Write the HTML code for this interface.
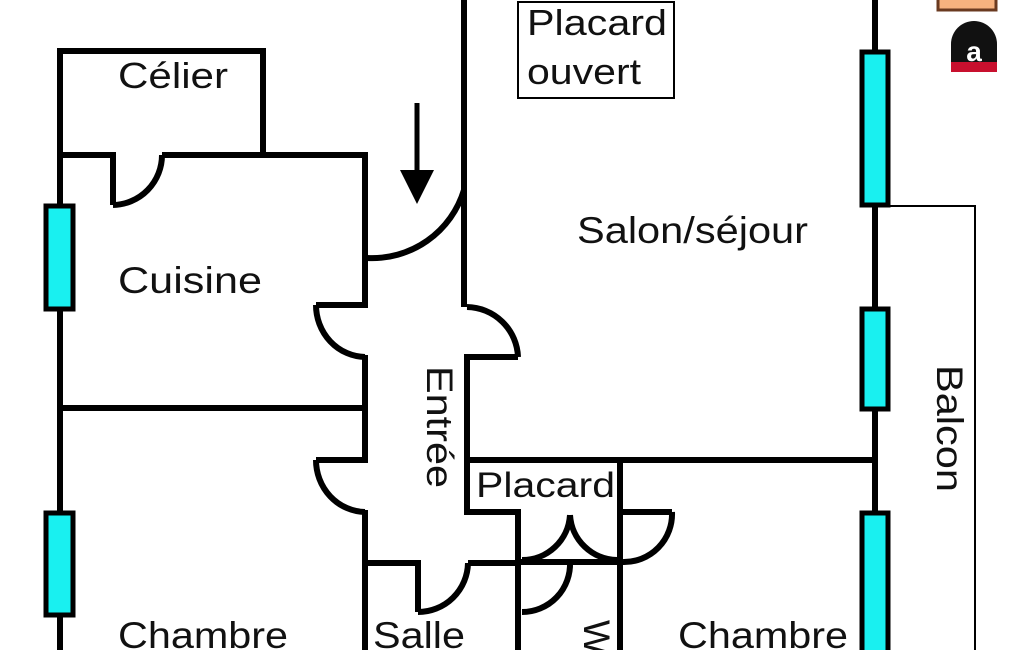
<!DOCTYPE html>
<html><head><meta charset="utf-8"><style>
html,body{margin:0;padding:0;background:#fff;}
svg{display:block}
text{font-family:"Liberation Sans",Arial,sans-serif;fill:#111;}
</style></head><body>
<svg width="1025" height="650" viewBox="0 0 1025 650" xmlns="http://www.w3.org/2000/svg">
<g fill="none" stroke="#000" stroke-width="6" stroke-linejoin="miter">
<polyline points="60,650 60,51 263,51 263,155"/>
<polyline points="60,155 113,155 113,205"/>
<path d="M113,205 A50,50 0 0 0 162,155"/>
<polyline points="162,155 365,155 365,308"/>
<path d="M367,258 A96,96 0 0 0 464,190"/>
<line x1="464" y1="0" x2="464" y2="307"/>
<line x1="365" y1="305" x2="316" y2="305"/>
<path d="M316,305 A50,52 0 0 0 365,357"/>
<line x1="365" y1="355" x2="365" y2="463"/>
<line x1="60" y1="408" x2="365" y2="408"/>
<line x1="365" y1="460" x2="316" y2="460"/>
<path d="M316,460 A50,52 0 0 0 365,512"/>
<line x1="365" y1="510" x2="365" y2="650"/>
<path d="M467,307 A52,52 0 0 1 518,357"/>
<polyline points="518,357 467,357 467,512 518,512 518,650"/>
<line x1="464" y1="460" x2="875" y2="460"/>
<line x1="620" y1="460" x2="620" y2="650"/>
<path d="M522,560 A48,48 0 0 0 570,515"/>
<path d="M570,515 A48,48 0 0 0 617,560"/>
<line x1="518" y1="562" x2="620" y2="562"/>
<path d="M522,612 A48,48 0 0 0 570,562"/>
<line x1="623" y1="512" x2="672" y2="512"/>
<path d="M672,512 A48,48 0 0 1 623,562"/>
<polyline points="365,563 418,563 418,612"/>
<path d="M418,612 A50,50 0 0 0 468,563"/>
<line x1="468" y1="563" x2="518" y2="563"/>
<line x1="875" y1="0" x2="875" y2="650"/>
</g>
<g fill="#19f0f0" stroke="#000" stroke-width="5">
<rect x="46" y="206" width="27" height="103"/>
<rect x="46" y="513" width="27" height="102"/>
<rect x="862" y="52" width="26" height="153"/>
<rect x="862" y="309" width="26" height="100"/>
<rect x="862" y="513" width="26" height="140"/>
</g>
<polyline points="888,206 975,206 975,650" fill="none" stroke="#000" stroke-width="2"/>
<rect x="518" y="2" width="156" height="96" fill="none" stroke="#000" stroke-width="2"/>
<line x1="417" y1="103" x2="417" y2="175" stroke="#000" stroke-width="5"/>
<polygon points="400,170 434,170 417,204" fill="#000"/>
<rect x="938" y="-4" width="58" height="14" fill="#f6b27f" stroke="#6a3a20" stroke-width="3"/>
<path d="M951,72 L951,44 A23,23 0 0 1 997,44 L997,72 Z" fill="#111"/>
<rect x="951" y="62" width="46" height="10" fill="#c8102e"/>
<text x="974" y="61" font-size="28" font-weight="bold" text-anchor="middle" style="fill:#fff">a</text>
<text x="118" y="88" font-size="36" textLength="110" lengthAdjust="spacingAndGlyphs">Célier</text>
<text x="118" y="293" font-size="37" textLength="144" lengthAdjust="spacingAndGlyphs">Cuisine</text>
<text x="577" y="243" font-size="37" textLength="231" lengthAdjust="spacingAndGlyphs">Salon/séjour</text>
<text x="527" y="35" font-size="36" textLength="140" lengthAdjust="spacingAndGlyphs">Placard</text>
<text x="527" y="84" font-size="36" textLength="114" lengthAdjust="spacingAndGlyphs">ouvert</text>
<text x="476" y="497" font-size="35" textLength="139" lengthAdjust="spacingAndGlyphs">Placard</text>
<text x="118" y="648" font-size="37" textLength="170" lengthAdjust="spacingAndGlyphs">Chambre</text>
<text x="373" y="648" font-size="37" textLength="92" lengthAdjust="spacingAndGlyphs">Salle</text>
<text x="678" y="648" font-size="37" textLength="170" lengthAdjust="spacingAndGlyphs">Chambre</text>
<text transform="translate(427,366) rotate(90)" font-size="37" textLength="122" lengthAdjust="spacingAndGlyphs">Entrée</text>
<text transform="translate(937,365) rotate(90)" font-size="37" textLength="127" lengthAdjust="spacingAndGlyphs">Balcon</text>
<text transform="translate(584,620) rotate(90)" font-size="37">W</text>
</svg>
</body></html>
